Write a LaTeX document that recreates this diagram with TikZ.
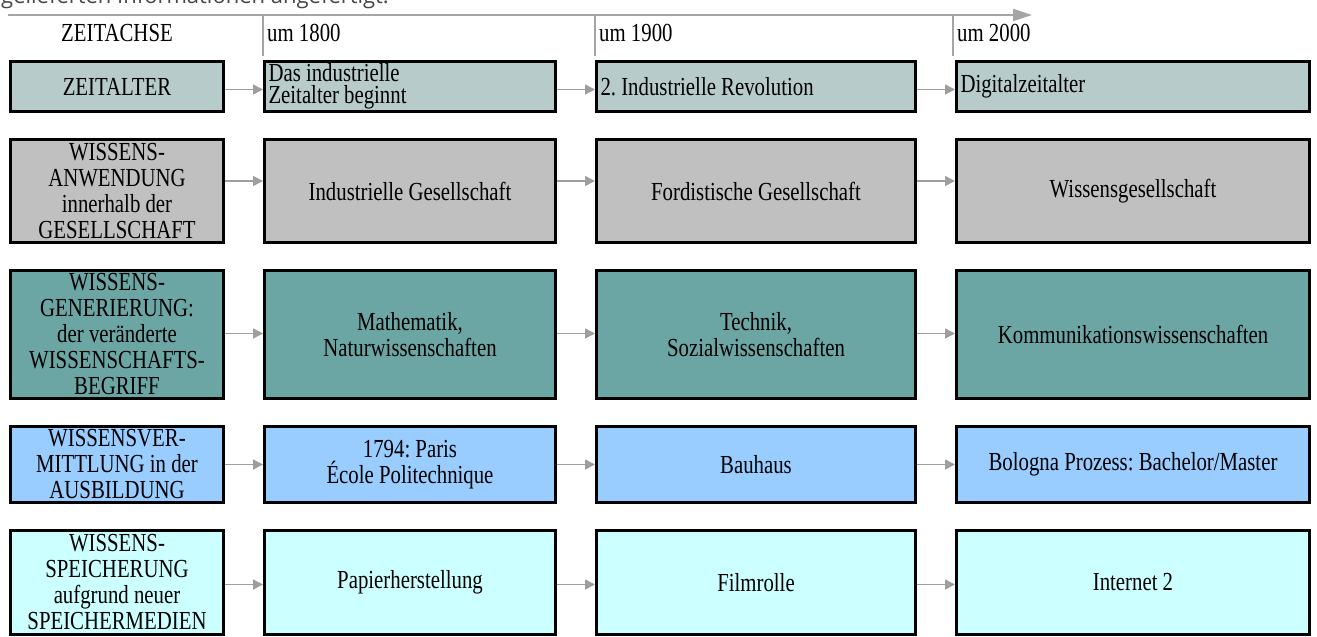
\documentclass[tikz,border=0pt]{standalone}
\usepackage{fontspec}
\setmainfont{Liberation Serif}[FakeStretch=0.8]
\newfontfamily\capfont{Open Sans}
\usepackage{xcolor}
\usetikzlibrary{positioning, arrows.meta}

\definecolor{zeitcol}{RGB}{183,204,202}
\definecolor{anwcol}{RGB}{192,192,192}
\definecolor{gencol}{RGB}{107,166,164}
\definecolor{vermcol}{RGB}{153,204,255}
\definecolor{speichcol}{RGB}{204,255,255}
\definecolor{axgray}{RGB}{165,165,165}
\definecolor{arrgray}{RGB}{158,158,158}
\definecolor{capgray}{RGB}{70,70,70}

\begin{document}
\frenchspacing
\begin{tikzpicture}[
    x=1pt, y=1pt,
    node distance=25pt and 38pt,
    n/.style={rectangle, draw, line width=3pt, inner xsep=4pt, inner ysep=0pt, align=center, font=\fontsize{26}{26}\selectfont},
    lft/.style={align=flush left},
    w0/.style={minimum width=213pt},
    w1/.style={minimum width=291pt},
    w2/.style={minimum width=319pt},
    w3/.style={minimum width=353pt},
    h1/.style={minimum height=50pt},
    h2/.style={minimum height=103pt},
    h3/.style={minimum height=128pt},
    h4/.style={minimum height=76pt},
    h5/.style={minimum height=104pt},
    hd/.style={inner sep=4pt, font=\fontsize{26}{26}\selectfont},
    arr/.style={-{Triangle[length=10pt, width=10pt]}, line width=1.5pt, arrgray},
    axis/.style={-{Triangle[length=19pt, width=12pt]}, line width=2pt, axgray},
    tickline/.style={line width=1.5pt, axgray},
]
    \useasboundingbox (0,0) rectangle (1317,-637);
    \clip (0,0) rectangle (1317,-637);

    % line of text running above the chart
    \node[anchor=base west, inner sep=0pt, text=capgray, font=\capfont\fontsize{22}{26}\selectfont] (cap) at (1,-4) {gelieferten Informationen angefertigt.};

    % Zeitalter
    \node[n, w0, h1, fill=zeitcol, anchor=north west] (z0) at (9,-60) {ZEITALTER};
    \node[n, w1, h1, fill=zeitcol, lft, text width=283pt, font=\fontsize{26}{22}\selectfont, right=of z0] (z1) {Das industrielle\\Zeitalter beginnt};
    \node[n, w2, h1, fill=zeitcol, lft, text width=311pt, right=of z1] (z2) {2. Industrielle Revolution};
    \node[n, w3, h1, fill=zeitcol, lft, text width=345pt, right=of z2] (z3) {Digitalzeitalter};

    % Wissensanwendung
    \node[n, w0, h2, fill=anwcol, below=of z0] (a0) {WISSENS-\\ANWENDUNG\\innerhalb der\\GESELLSCHAFT};
    \node[n, w1, h2, fill=anwcol, right=of a0] (a1) {Industrielle Gesellschaft};
    \node[n, w2, h2, fill=anwcol, right=of a1] (a2) {Fordistische Gesellschaft};
    \node[n, w3, h2, fill=anwcol, right=of a2] (a3) {Wissensgesellschaft};

    % Wissensgenerierung
    \node[n, w0, h3, fill=gencol, below=of a0] (g0) {WISSENS-\\GENERIERUNG:\\der ver\"anderte\\WISSENSCHAFTS-\\BEGRIFF};
    \node[n, w1, h3, fill=gencol, right=of g0] (g1) {Mathematik,\\Naturwissenschaften};
    \node[n, w2, h3, fill=gencol, right=of g1] (g2) {Technik,\\Sozialwissenschaften};
    \node[n, w3, h3, fill=gencol, right=of g2] (g3) {Kommunikationswissenschaften};

    % Wissensvermittlung
    \node[n, w0, h4, fill=vermcol, below=of g0] (v0) {WISSENSVER-\\MITTLUNG in der\\AUSBILDUNG};
    \node[n, w1, h4, fill=vermcol, right=of v0] (v1) {1794: Paris\\\'Ecole Politechnique};
    \node[n, w2, h4, fill=vermcol, right=of v1] (v2) {Bauhaus};
    \node[n, w3, h4, fill=vermcol, right=of v2] (v3) {Bologna Prozess: Bachelor/Master};

    % Wissensspeicherung
    \node[n, w0, h5, fill=speichcol, below=of v0] (s0) {WISSENS-\\SPEICHERUNG\\aufgrund neuer\\SPEICHERMEDIEN};
    \node[n, w1, h5, fill=speichcol, right=of s0] (s1) {Papierherstellung};
    \node[n, w2, h5, fill=speichcol, right=of s1] (s2) {Filmrolle};
    \node[n, w3, h5, fill=speichcol, right=of s2] (s3) {Internet 2};

    % time axis with its marks
    \coordinate (ax0) at (8,-15);
    \coordinate (ax1) at (1032,-15);
    \draw[axis] (ax0) -- (ax1);
    \draw[tickline] (z1.north west |- ax0) -- ([yshift=4pt]z1.north west);
    \draw[tickline] (z2.north west |- ax0) -- ([yshift=4pt]z2.north west);
    \draw[tickline] ([xshift=-2pt]z3.north west |- ax0) -- ([xshift=-2pt, yshift=4pt]z3.north west);

    \node[hd] (h0) at ([yshift=27pt]z0.north) {ZEITACHSE};
    \node[hd, anchor=west] (h1) at ([yshift=27pt]z1.north west) {um 1800};
    \node[hd, anchor=west] (h2) at ([yshift=27pt]z2.north west) {um 1900};
    \node[hd, anchor=west] (h3) at ([xshift=-2pt, yshift=27pt]z3.north west) {um 2000};

    % arrows between the columns
    \foreach \r/\dy in {z/-3, a/10, g/1, v/0, s/-2} {
        \draw[arr] ([yshift=\dy pt]\r0.east) -- ([yshift=\dy pt]\r1.west);
        \draw[arr] ([yshift=\dy pt]\r1.east) -- ([yshift=\dy pt]\r2.west);
        \draw[arr] ([yshift=\dy pt]\r2.east) -- ([yshift=\dy pt]\r3.west);
    }
\end{tikzpicture}
\end{document}
